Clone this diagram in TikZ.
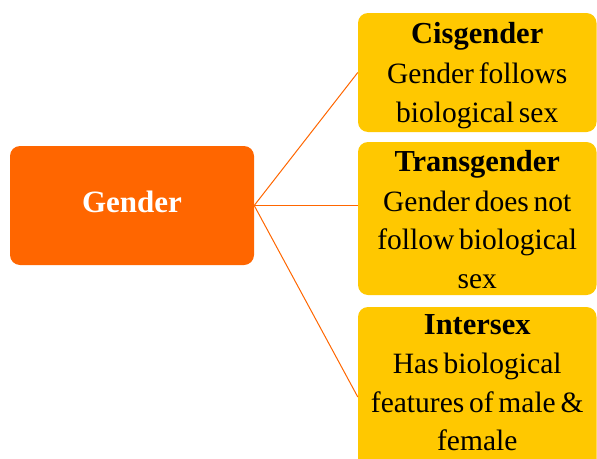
\documentclass[tikz,border=0pt]{standalone}
\usepackage{fontspec}
\setmainfont[WordSpace=0.65]{Liberation Serif}
\definecolor{gorange}{HTML}{FF6600}
\definecolor{ggold}{HTML}{FFC800}
\begin{document}
\begin{tikzpicture}[x=1pt,y=-1pt,
  mainbox/.style={fill=gorange, rounded corners=10pt, draw=none},
  subbox/.style={fill=ggold, rounded corners=10pt, draw=none},
  boxtext/.style={align=center, inner sep=0pt, text=black,
    font=\fontsize{29.5}{38.6}\selectfont},
  link/.style={draw=gorange, line width=1pt}]
\useasboundingbox (0,0) rectangle (597,458);
\clip (0,0) rectangle (597,458);
% boxes
\path[mainbox] (10,146) rectangle (254,265);
\node[inner sep=0pt, minimum width=244pt, minimum height=119pt] (gender) at (132,205.5) {};
\node[anchor=base, inner sep=0pt, text=white, font=\fontsize{31}{36}\selectfont\bfseries] (gendertxt) at (132,212.7) {Gender};
\path[subbox] (358,13) rectangle (596.5,132);
\node[inner sep=0pt, minimum width=238.5pt, minimum height=119pt] (cis) at (477.25,72.5) {};
\path[subbox] (358,142) rectangle (596.5,295);
\coordinate (transw) at (358,205.5);
\node[inner sep=0pt, minimum width=238.5pt, minimum height=153pt] (trans) at (477.25,218.5) {};
\path[subbox] (358,307) rectangle (596.5,487);
\node[inner sep=0pt, minimum width=238.5pt, minimum height=180pt] (inter) at (477.25,397) {};
% texts
\node[boxtext, anchor=north] (cistxt) at (477.25,22.6) {{\fontsize{30.5}{38.6}\selectfont\bfseries Cisgender}\\[1pt]Gender follows\\biological sex};
\node[boxtext, anchor=north] (transtxt) at (477.25,150.2) {{\fontsize{30.5}{38.6}\selectfont\bfseries Transgender}\\[1pt]Gender does not\\follow biological\\sex};
\node[boxtext, anchor=north] (intertxt) at (477.25,314.8) {{\fontsize{30.5}{38.6}\selectfont\bfseries Intersex}\\Has biological\\features of male \&\\female};
% connectors
\draw[link] (gender.east) -- (cis.west);
\draw[link] (gender.east) -- (transw);
\draw[link] (gender.east) -- (inter.west);
\end{tikzpicture}
\end{document}
